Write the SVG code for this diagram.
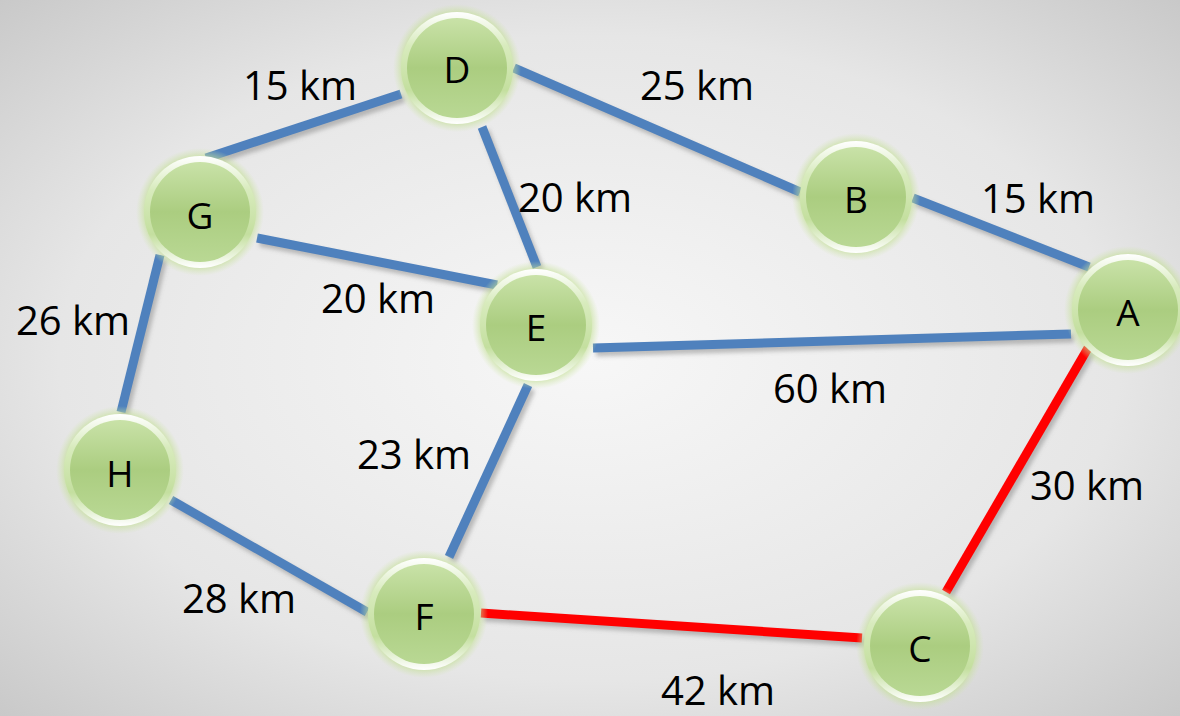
<svg xmlns="http://www.w3.org/2000/svg" width="1180" height="716" viewBox="0 0 1180 716">
<defs>
  <radialGradient id="bg" cx="0.5" cy="0.5" r="0.75">
    <stop offset="0" stop-color="#f7f7f7"/>
    <stop offset="0.6" stop-color="#e6e6e6"/>
    <stop offset="1" stop-color="#c4c4c4"/>
  </radialGradient>
  <radialGradient id="glow">
    <stop offset="0.8" stop-color="#bcdc88" stop-opacity="0.9"/>
    <stop offset="1" stop-color="#cfe6a8" stop-opacity="0"/>
  </radialGradient>
  <linearGradient id="rim" x1="0" y1="0" x2="0" y2="1">
    <stop offset="0" stop-color="#ffffff"/>
    <stop offset="0.3" stop-color="#d8ebbd"/>
    <stop offset="0.7" stop-color="#c4df9f"/>
    <stop offset="1" stop-color="#ffffff"/>
  </linearGradient>
  <linearGradient id="face" x1="0" y1="0" x2="0" y2="1">
    <stop offset="0" stop-color="#c9e2a8"/>
    <stop offset="0.5" stop-color="#abcd80"/>
    <stop offset="1" stop-color="#b9d894"/>
  </linearGradient>
  <filter id="sh" x="-10%" y="-10%" width="120%" height="120%">
    <feGaussianBlur stdDeviation="2"/>
  </filter>
  <g id="node">
    <circle r="64" fill="url(#glow)"/>
    <circle r="56" fill="url(#rim)"/>
    <circle r="50" fill="url(#face)"/>
  </g>
</defs>
<style>
  .e { stroke: #4f81bd; stroke-width: 9; fill: none; }
  .r { stroke: #ff0000; stroke-width: 9; fill: none; }
  .s { stroke: #777; stroke-opacity: 0.45; stroke-width: 9; fill: none; }
  text { font-family: "Open Sans", "Liberation Sans", sans-serif; font-size: 40px; fill: #000; text-anchor: middle; }
  .n { font-size: 37px; }
</style>
<rect width="1180" height="716" fill="url(#bg)"/>
<g id="connectors">
  <g filter="url(#sh)" transform="translate(3,4)">
    <line class="s" x1="206" y1="158" x2="401" y2="94"/>
    <line class="s" x1="514" y1="68" x2="800" y2="192"/>
    <line class="s" x1="482" y1="127" x2="537" y2="267"/>
    <line class="s" x1="257" y1="238" x2="497" y2="285"/>
    <line class="s" x1="913" y1="198" x2="1089" y2="267"/>
    <line class="s" x1="593" y1="348" x2="1071" y2="334"/>
    <line class="s" x1="160" y1="255" x2="121" y2="412"/>
    <line class="s" x1="171" y1="500" x2="367" y2="612"/>
    <line class="s" x1="528" y1="385" x2="449" y2="557"/>
    <line class="s" x1="481" y1="613" x2="862" y2="638"/>
    <line class="s" x1="1088" y1="348" x2="946" y2="592"/>
  </g>
  <line class="e" x1="206" y1="158" x2="401" y2="94"/>
  <line class="e" x1="514" y1="68" x2="800" y2="192"/>
  <line class="e" x1="482" y1="127" x2="537" y2="267"/>
  <line class="e" x1="257" y1="238" x2="497" y2="285"/>
  <line class="e" x1="913" y1="198" x2="1089" y2="267"/>
  <line class="e" x1="593" y1="348" x2="1071" y2="334"/>
  <line class="e" x1="160" y1="255" x2="121" y2="412"/>
  <line class="e" x1="171" y1="500" x2="367" y2="612"/>
  <line class="e" x1="528" y1="385" x2="449" y2="557"/>
  <line class="r" x1="481" y1="613" x2="862" y2="638"/>
  <line class="r" x1="1088" y1="348" x2="946" y2="592"/>
</g>
<g id="edge-labels">
  <text x="300" y="100">15 km</text>
  <text x="697" y="100">25 km</text>
  <text x="575" y="212">20 km</text>
  <text x="1038" y="213">15 km</text>
  <text x="378" y="313">20 km</text>
  <text x="73" y="335">26 km</text>
  <text x="830" y="403">60 km</text>
  <text x="414" y="469">23 km</text>
  <text x="1087" y="500">30 km</text>
  <text x="239" y="613">28 km</text>
  <text x="718" y="705">42 km</text>
</g>
<g id="node-D"><use href="#node" x="457" y="68"/><text class="n" x="457" y="83">D</text></g>
<g id="node-B"><use href="#node" x="856" y="197"/><text class="n" x="856" y="213">B</text></g>
<g id="node-A"><use href="#node" x="1128" y="310"/><text class="n" x="1128" y="326">A</text></g>
<g id="node-G"><use href="#node" x="200" y="212"/><text class="n" x="200" y="229">G</text></g>
<g id="node-E"><use href="#node" x="536" y="325"/><text class="n" x="536" y="341">E</text></g>
<g id="node-H"><use href="#node" x="120" y="470"/><text class="n" x="120" y="487">H</text></g>
<g id="node-F"><use href="#node" x="424" y="614"/><text class="n" x="424" y="630">F</text></g>
<g id="node-C"><use href="#node" x="920" y="646"/><text class="n" x="920" y="662">C</text></g>
</svg>
